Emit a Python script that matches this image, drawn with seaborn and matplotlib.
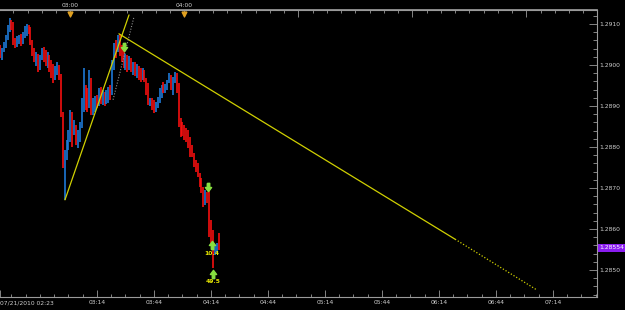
import numpy as np
import pandas as pd
import matplotlib
matplotlib.use("Agg")
import matplotlib.pyplot as plt
import matplotlib.transforms as mtransforms
from matplotlib.ticker import FixedLocator, MultipleLocator
import seaborn as sns

# EURUSD-ish 1 minute bars, 07/21/2010 from 02:23 (minute 0)
first_open = 1.29041
highs = [1.29049, 1.29041, 1.29056, 1.29073, 1.29098, 1.29115, 1.29110, 1.29105, 1.29066, 1.29071,
         1.29073, 1.29076, 1.29080, 1.29095, 1.29100, 1.29098, 1.29093, 1.29061, 1.29041, 1.29032,
         1.29027, 1.29024, 1.29041, 1.29044, 1.29037, 1.29032, 1.29024, 1.29012, 1.29002, 1.28998,
         1.29007, 1.29000, 1.28978, 1.28885, 1.28793, 1.28817, 1.28841, 1.28890, 1.28885, 1.28866,
         1.28854, 1.28841, 1.28861, 1.28920, 1.28993, 1.28951, 1.28944, 1.28988, 1.28968, 1.28920,
         1.28924, 1.28927, 1.28944, 1.28946, 1.28939, 1.28934, 1.28939, 1.28946, 1.28951, 1.29012,
         1.29054, 1.29061, 1.29073, 1.29076, 1.29049, 1.29037, 1.29027, 1.29024, 1.29022, 1.29017,
         1.29007, 1.29007, 1.29002, 1.28998, 1.28993, 1.28993, 1.28988, 1.28968, 1.28956, 1.28920,
         1.28920, 1.28915, 1.28910, 1.28922, 1.28944, 1.28951, 1.28959, 1.28954, 1.28963, 1.28981,
         1.28976, 1.28971, 1.28983, 1.28981, 1.28956, 1.28871, 1.28861, 1.28854, 1.28846, 1.28841,
         1.28824, 1.28805, 1.28785, 1.28768, 1.28761, 1.28737, 1.28724, 1.28702, 1.28695, 1.28690,
         1.28695, 1.28622, 1.28598, 1.28561, 1.28566, 1.28590]
lows = [1.29017, 1.29012, 1.29032, 1.29041, 1.29061, 1.29080, 1.29085, 1.29049, 1.29041, 1.29044,
        1.29051, 1.29046, 1.29051, 1.29066, 1.29071, 1.29076, 1.29049, 1.29022, 1.29007, 1.28998,
        1.28983, 1.28988, 1.29012, 1.29007, 1.28998, 1.28993, 1.28983, 1.28968, 1.28956, 1.28963,
        1.28976, 1.28963, 1.28873, 1.28749, 1.28671, 1.28768, 1.28793, 1.28812, 1.28800, 1.28829,
        1.28805, 1.28798, 1.28812, 1.28846, 1.28885, 1.28890, 1.28885, 1.28895, 1.28878, 1.28878,
        1.28885, 1.28895, 1.28900, 1.28905, 1.28902, 1.28900, 1.28905, 1.28907, 1.28915, 1.28927,
        1.28988, 1.29017, 1.29032, 1.29022, 1.29007, 1.28993, 1.28988, 1.28983, 1.28988, 1.28983,
        1.28976, 1.28973, 1.28968, 1.28963, 1.28959, 1.28963, 1.28959, 1.28927, 1.28902, 1.28900,
        1.28890, 1.28883, 1.28885, 1.28895, 1.28907, 1.28920, 1.28932, 1.28932, 1.28939, 1.28956,
        1.28939, 1.28927, 1.28956, 1.28932, 1.28849, 1.28824, 1.28827, 1.28817, 1.28812, 1.28798,
        1.28776, 1.28776, 1.28751, 1.28739, 1.28727, 1.28702, 1.28688, 1.28654, 1.28658, 1.28663,
        1.28580, 1.28566, 1.28505, 1.28537, 1.28539, 1.28549]
closes = [1.29024, 1.29037, 1.29051, 1.29066, 1.29090, 1.29105, 1.29098, 1.29056, 1.29051, 1.29061,
          1.29066, 1.29056, 1.29073, 1.29090, 1.29093, 1.29085, 1.29056, 1.29032, 1.29017, 1.29024,
          1.28993, 1.29017, 1.29037, 1.29017, 1.29007, 1.29024, 1.28998, 1.28983, 1.28968, 1.28988,
          1.28998, 1.28973, 1.28880, 1.28763, 1.28780, 1.28805, 1.28829, 1.28878, 1.28817, 1.28854,
          1.28817, 1.28822, 1.28854, 1.28910, 1.28983, 1.28902, 1.28895, 1.28976, 1.28890, 1.28910,
          1.28915, 1.28900, 1.28934, 1.28924, 1.28932, 1.28915, 1.28927, 1.28939, 1.28934, 1.29007,
          1.29046, 1.29037, 1.29061, 1.29032, 1.29017, 1.29002, 1.29017, 1.29007, 1.29012, 1.28993,
          1.28998, 1.28983, 1.28988, 1.28973, 1.28968, 1.28983, 1.28963, 1.28939, 1.28910, 1.28915,
          1.28895, 1.28890, 1.28905, 1.28917, 1.28934, 1.28944, 1.28939, 1.28949, 1.28959, 1.28973,
          1.28954, 1.28963, 1.28978, 1.28944, 1.28861, 1.28841, 1.28832, 1.28822, 1.28817, 1.28805,
          1.28793, 1.28780, 1.28758, 1.28749, 1.28732, 1.28710, 1.28695, 1.28671, 1.28683, 1.28676,
          1.28598, 1.28578, 1.28554, 1.28559, 1.28561, 1.28554]

# trendlines (minute, price)
rise_t = [34.2, 67.9]
rise_p = [1.28671, 1.29122]
fall_t = [62.6, 239.5]
fall_p = [1.29076, 1.28575]
fall_ext_t = [239.5, 282.6]
fall_ext_p = [1.28575, 1.28451]
grey_t = [59.5, 70.5]
grey_p = [1.28915, 1.29117]

# signal arrows
sell_t = [65.3, 109.5]
sell_p = [1.29044, 1.28702]
buy_t = [111.6, 112.1]
buy_p = [1.28561, 1.28490]
buy_text = ["10.4", "49.5"]
buy_text_p = [1.28541, 1.28471]

bottom_ticks = [0, 51, 81, 111, 141, 171, 201, 231, 261, 291]
bottom_labels = ["07/21/2010 02:23", "03:14", "03:44", "04:14", "04:44",
                 "05:14", "05:44", "06:14", "06:44", "07:14"]
hour_ticks = [37, 97, 157, 217, 277]
hour_labels = ["03:00", "04:00", "", "", ""]
price_ticks = [1.2850, 1.2860, 1.2870, 1.2880, 1.2890, 1.2900, 1.2910]

bars = pd.DataFrame({"minute": np.arange(len(closes)), "high": highs, "low": lows, "close": closes})
bars["open"] = [first_open] + closes[:-1]
bars["up"] = bars["close"] >= bars["open"]

sns.set_theme(style="dark", rc={"axes.facecolor": "black", "figure.facecolor": "black",
                                "axes.edgecolor": "#9a9a9a", "text.color": "#d0d0d0",
                                "xtick.color": "#9a9a9a", "ytick.color": "#9a9a9a"})
plt.rcParams["font.family"] = ["DejaVu Sans"]

fig = plt.figure(figsize=(6.25, 3.10), dpi=100)
ax = fig.add_axes([0, 13 / 310, 597 / 625, 287 / 310])

cols = np.where(bars["up"], "#1f7ee0", "#ff1010")
ax.vlines(bars["minute"], bars["low"], bars["high"], colors=cols, linewidth=1.15)

yel = "#d0d000"
ax.plot(rise_t, rise_p, color=yel, lw=0.9)
ax.plot(fall_t, fall_p, color=yel, lw=0.9)
ax.plot(fall_ext_t, fall_ext_p, color=yel, lw=0.9, ls=(0, (1, 1.5)))
ax.plot(grey_t, grey_p, color="#909090", lw=0.8, ls=(0, (1, 1.5)))

up_arrow = [(-0.3, -1), (0.3, -1), (0.3, 0), (0.75, 0), (0, 1), (-0.75, 0), (-0.3, 0), (-0.3, -1)]
down_arrow = [(x, -y) for x, y in up_arrow]
ax.plot(sell_t, sell_p, ls="none", marker=down_arrow, ms=6, color="#88e040", mec="#88e040")
ax.plot(buy_t, buy_p, ls="none", marker=up_arrow, ms=6, color="#88e040", mec="#88e040")
for t, p, s in zip(buy_t, buy_text_p, buy_text):
    ax.text(t, p, s, color="#e8e800", fontsize=4.3, ha="center", va="center", fontweight="bold")

ax.set_xlim(0, 314.2)
ax.set_ylim(1.28434, 1.29134)

# bottom axis
ax.set_xticks(bottom_ticks, labels=bottom_labels)
ax.xaxis.set_minor_locator(FixedLocator(np.arange(51 - 7.5 * 6, 314, 7.5)))
ax.tick_params(axis="x", which="both", direction="in", bottom=True, colors="#9a9a9a",
               labelcolor="#d0d0d0", labelsize=4.3, pad=2.5)
ax.tick_params(axis="x", which="major", length=5, width=0.6)
ax.tick_params(axis="x", which="minor", length=2.5, width=0.6)
ax.get_xticklabels()[0].set_ha("left")

# top axis
top = ax.secondary_xaxis("top")
top.set_xticks(hour_ticks, labels=hour_labels)
top.xaxis.set_minor_locator(FixedLocator(np.arange(37 - 7.5 * 4, 314, 7.5)))
top.tick_params(axis="x", which="both", direction="in", colors="#9a9a9a",
                labelcolor="#d0d0d0", labelsize=4.3, pad=1.5)
top.tick_params(axis="x", which="major", length=5, width=0.6)
top.tick_params(axis="x", which="minor", length=2.5, width=0.6)
top.spines["top"].set_color("#9a9a9a")
ax.plot(hour_ticks[:2], [0.985, 0.985], transform=ax.get_xaxis_transform(), ls="none",
        marker="v", ms=3.5, color="#e0a020", clip_on=False)

# right price axis
ax.yaxis.tick_right()
ax.set_yticks(price_ticks, labels=[f"{p:.4f}" for p in price_ticks])
ax.yaxis.set_minor_locator(MultipleLocator(0.0002))
ax.tick_params(axis="y", which="both", direction="in", right=True, colors="#9a9a9a",
               labelcolor="#d0d0d0", labelsize=4.3, pad=2)
ax.tick_params(axis="y", which="major", length=6, width=0.6)
ax.tick_params(axis="y", which="minor", length=3, width=0.6)

trans = mtransforms.blended_transform_factory(ax.transAxes, ax.transData)
ax.text(1.004, closes[-1], f"{closes[-1]:.5f}", transform=trans, color="white", fontsize=4.3,
        ha="left", va="center", bbox=dict(fc="#8a1cf0", ec="none", pad=1.2))

ax.spines["left"].set_visible(False)
for s in ["top", "bottom", "right"]:
    ax.spines[s].set_color("#9a9a9a")
    ax.spines[s].set_linewidth(0.8)
ax.grid(False)
ax.set_xlabel("")
ax.set_ylabel("")

fig.savefig("out.png", dpi=100, facecolor="black")
